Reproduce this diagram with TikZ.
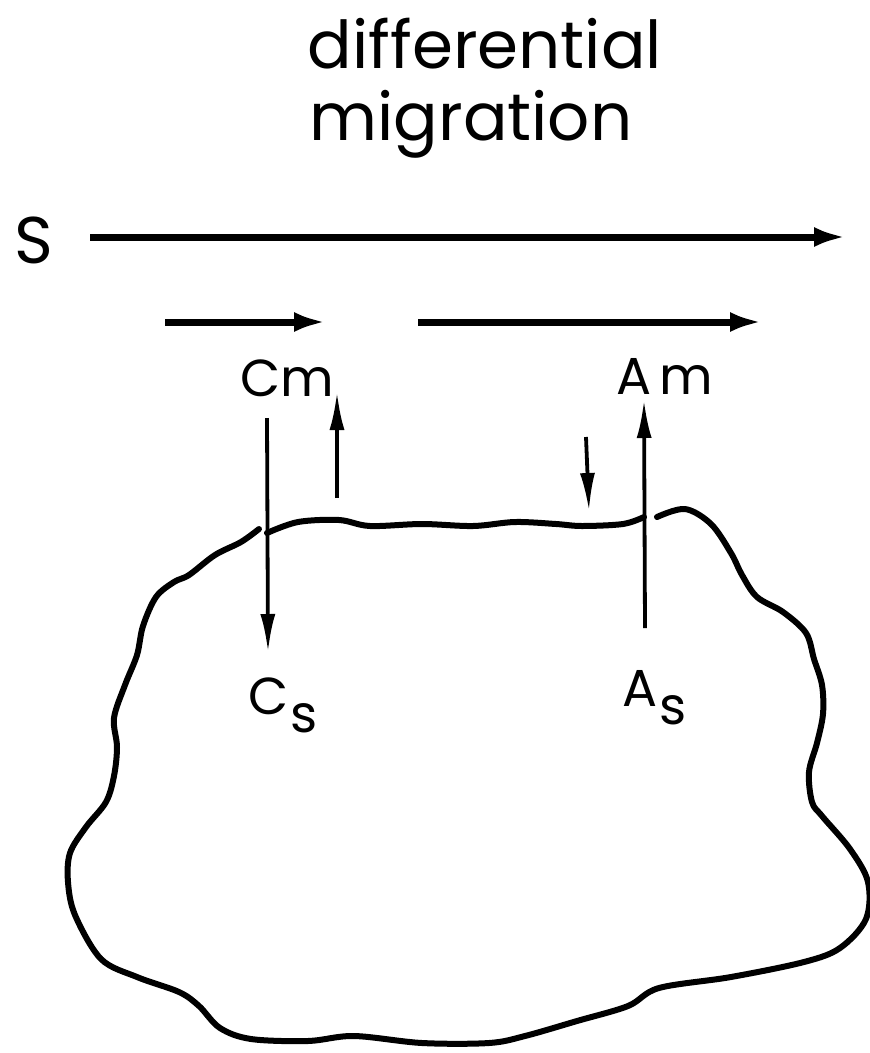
\documentclass[tikz,border=0pt]{standalone}
\usepackage{fontspec}
\setmainfont{Poppins}
\usetikzlibrary{arrows.meta}
\begin{document}
\begin{tikzpicture}[x=1pt,y=-1pt,
  lbl/.style={inner sep=0pt,font=\fontsize{52}{60}\selectfont},
  ttl/.style={inner sep=0pt,font=\fontsize{66}{72}\selectfont},
  flow/.style={line width=7pt,-{Latex[length=32pt,width=20pt]}},
  vflux/.style={line width=3.8pt,-{Latex[length=38pt,width=15pt]}},
  outline/.style={line width=6pt,line cap=round,line join=round}]
\useasboundingbox (0,0) rectangle (870,1053);
% title
\node[ttl] (t1) at (485,44) {differential};
\node[ttl] (t2) at (471,124) {migration};
% S arrow
\node[lbl,font=\fontsize{66}{70}\selectfont] (S) at (34,240) {S};
\coordinate (s0) at (90,237);
\coordinate (s1) at (846,237);
\draw[flow] (s0) -- (s1);
% mobile phase arrows
\coordinate (m0) at (165,322);
\coordinate (m1) at (326,322);
\coordinate (n0) at (418,322);
\coordinate (n1) at (762,322);
\draw[flow] (m0) -- (m1);
\draw[flow] (n0) -- (n1);
% labels
\node[lbl] (Cm) at (287,378) {Cm};
\node[lbl] (Am) at (665,376) {A\kern8pt m};
\node[lbl] (Cs) at (283,705) {C\kern2pt\raisebox{-18pt}{s}};
\node[lbl] (As) at (655,698) {A\kern2pt\raisebox{-18pt}{s}};
% vertical arrows
\coordinate (c0) at (267,418);
\coordinate (c1) at (268,652);
\draw[vflux] (c0) -- (c1);
\coordinate (u0) at (337,498);
\coordinate (u1) at (337,392);
\draw[vflux] (u0) -- (u1);
\coordinate (d0) at (586,437);
\coordinate (d1) at (589,511);
\draw[vflux] (d0) -- (d1);
\coordinate (a0) at (645,628);
\coordinate (a1) at (644,400);
\draw[vflux] (a0) -- (a1);
% stationary phase blob
\draw[outline] plot[smooth,tension=0.55] coordinates {
 (657,517) (685,509) (711,524) (731,553) (742,575) (757,597) (783,612)
 (806,633) (814,659) (822,685) (823,714) (817,743) (809,772) (812,802)
 (822,816) (850,849) (868,882) (866,919) (840,948) (804,962) (731,977)
 (659,988) (628,1006) (577,1021) (525,1036) (489,1043) (422,1043)
 (354,1036) (308,1041) (251,1039) (220,1028) (199,1006) (179,992)
 (137,977) (101,959) (75,915) (68,882) (70,853) (86,827) (106,802)
 (114,776) (117,747) (114,718) (125,685) (137,655) (143,626) (156,597)
 (174,582) (189,575) (215,555) (241,542) (259,529)};
\draw[outline] plot[smooth,tension=0.55] coordinates {
 (267,533) (298,522) (339,520) (370,526) (422,524) (473,526) (515,522)
 (556,524) (582,526) (623,524) (644,517)};
\end{tikzpicture}
\end{document}
